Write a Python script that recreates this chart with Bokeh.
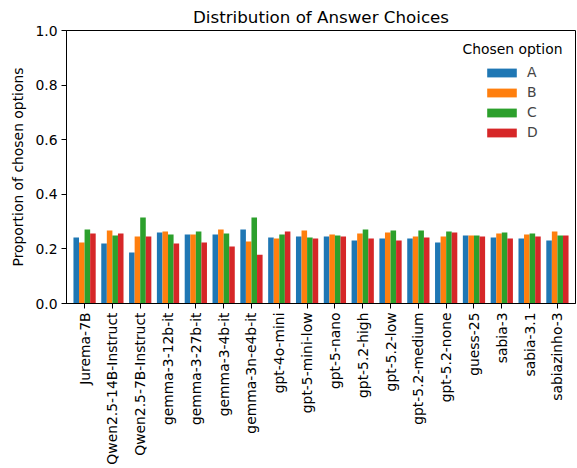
import numpy as np
from bokeh.plotting import figure
from bokeh.models import (ColumnDataSource, FactorRange, Legend, LegendItem, Label,
                          FixedTicker, NumeralTickFormatter)
from bokeh.transform import dodge
from bokeh.embed import file_html
from bokeh.resources import INLINE

models = ["Jurema-7B", "Qwen2.5-14B-Instruct", "Qwen2.5-7B-Instruct", "gemma-3-12b-it",
          "gemma-3-27b-it", "gemma-3-4b-it", "gemma-3n-e4b-it", "gpt-4o-mini",
          "gpt-5-mini-low", "gpt-5-nano", "gpt-5.2-high", "gpt-5.2-low",
          "gpt-5.2-medium", "gpt-5.2-none", "guess-25", "sabia-3", "sabia-3.1",
          "sabiazinho-3"]
opt_a = [0.242, 0.220, 0.187, 0.260, 0.253, 0.253, 0.271, 0.242, 0.245, 0.245,
         0.231, 0.238, 0.238, 0.223, 0.249, 0.242, 0.238, 0.231]
opt_b = [0.223, 0.267, 0.245, 0.264, 0.253, 0.271, 0.227, 0.238, 0.267, 0.253,
         0.256, 0.260, 0.245, 0.245, 0.249, 0.256, 0.253, 0.264]
opt_c = [0.271, 0.249, 0.315, 0.253, 0.264, 0.256, 0.315, 0.253, 0.242, 0.249,
         0.271, 0.267, 0.267, 0.264, 0.249, 0.260, 0.256, 0.249]
opt_d = [0.256, 0.256, 0.245, 0.220, 0.223, 0.209, 0.179, 0.264, 0.238, 0.245,
         0.238, 0.231, 0.242, 0.260, 0.245, 0.238, 0.245, 0.249]
options = ["A", "B", "C", "D"]
colors = ["#1f77b4", "#ff7f0e", "#2ca02c", "#d62728"]
y_ticks = [0.0, 0.2, 0.4, 0.6, 0.8, 1.0]

source = ColumnDataSource(dict(model=models, A=opt_a, B=opt_b, C=opt_c, D=opt_d))

FONT = "DejaVu Sans"
p = figure(x_range=FactorRange(*models, range_padding=0.15, range_padding_units="absolute"),
           y_range=(0, 1.0), width=577, height=468, output_backend="svg",
           toolbar_location=None, title="Distribution of Answer Choices",
           min_border_left=66, min_border_right=2, min_border_top=30, min_border_bottom=165)

offsets = [-0.3, -0.1, 0.1, 0.3]
renderers = []
for opt, col, off in zip(options, colors, offsets):
    r = p.vbar(x=dodge("model", off, range=p.x_range), top=opt, width=0.2, source=source,
               fill_color=col, line_color=None)
    renderers.append(r)

p.title.align = "center"
p.title.text_font = FONT
p.title.text_font_size = "16.7px"
p.title.text_font_style = "normal"
p.title.text_color = "black"
p.title.standoff = 7

p.xgrid.visible = False
p.ygrid.visible = False
p.outline_line_color = "black"
p.outline_line_width = 1
p.outline_line_alpha = 1

for ax in (p.xaxis[0], p.yaxis[0]):
    ax.major_label_text_font = FONT
    ax.major_label_text_font_size = "13.9px"
    ax.major_label_text_color = "black"
    ax.axis_line_color = "black"
    ax.major_tick_line_color = "black"
    ax.major_tick_out = 5
    ax.major_tick_in = 0
    ax.minor_tick_line_color = None
    ax.axis_label_text_font = FONT
    ax.axis_label_text_font_size = "13.9px"
    ax.axis_label_text_font_style = "normal"
    ax.axis_label_text_color = "black"

p.xaxis.major_label_orientation = np.pi / 2
p.xaxis.major_label_standoff = 4
p.yaxis.ticker = FixedTicker(ticks=y_ticks)
p.yaxis.formatter = NumeralTickFormatter(format="0.0")
p.yaxis.axis_label = "Proportion of chosen options"
p.yaxis.major_label_standoff = 4
p.yaxis.axis_label_standoff = 6

items = [LegendItem(label=o, renderers=[r]) for o, r in zip(options, renderers)]
legend = Legend(items=items, location=(417, 163), padding=0, spacing=4,
                glyph_width=37, glyph_height=11, label_standoff=7,
                label_text_font=FONT, label_text_font_size="13.9px",
                background_fill_alpha=0, border_line_alpha=0, margin=0)
p.add_layout(legend, "center")

p.add_layout(Label(x=446, y=255, x_units="screen", y_units="screen", text="Chosen option",
                   text_align="center", text_baseline="middle", text_font=FONT,
                   text_font_size="13.9px", text_color="black"))

open("out.html", "w").write(file_html(p, INLINE))
